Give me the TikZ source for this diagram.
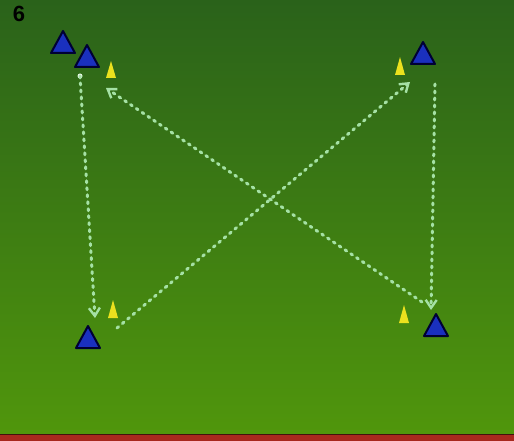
\documentclass[tikz,border=0pt]{standalone}
\usepackage{fontspec}
\setmainfont{Liberation Sans}
\usetikzlibrary{arrows.meta}
\definecolor{bgtop}{RGB}{42,98,26}
\definecolor{bgbot}{RGB}{80,150,12}
\definecolor{stripred}{RGB}{168,40,30}
\definecolor{coneblue}{RGB}{26,48,190}
\definecolor{coneyellow}{RGB}{235,225,30}
\definecolor{runline}{RGB}{165,225,165}
\begin{document}
\begin{tikzpicture}[x=1pt,y=-1pt,
  bluecone/.style={fill=coneblue,draw=black!80!blue,line width=2pt,line join=round},
  yellowcone/.style={fill=coneyellow,draw=none},
  runarrow/.style={draw=runline,line width=3pt,line cap=round,dash pattern=on 2pt off 5pt,
     -{Straight Barb[length=8pt,width=11pt,line width=2.4pt]}}]
\useasboundingbox (0,0) rectangle (514,441);
\shade[top color=bgtop,bottom color=bgbot] (0,0) rectangle (514,434);
\fill[stripred] (0,434) rectangle (514,441);
\draw[black!60!stripred,line width=1pt] (0,434) -- (514,434);
\node[font=\fontsize{22}{22}\selectfont\bfseries,text=black] (num) at (19,14) {\textbf{6}};
% blue cones
\path[bluecone] (63,31) -- (75,53) -- (51,53) -- cycle;
\path[bluecone] (87,45) -- (99,67) -- (75,67) -- cycle;
\path[bluecone] (423,42) -- (435,64) -- (411,64) -- cycle;
\path[bluecone] (88,326) -- (100,348) -- (76,348) -- cycle;
\path[bluecone] (436,314) -- (448,336) -- (424,336) -- cycle;
% yellow cones
\path[yellowcone] (111,61) -- (116,78) -- (106,78) -- cycle;
\path[yellowcone] (400,57) -- (405,75) -- (395,75) -- cycle;
\path[yellowcone] (113,300) -- (118,318) -- (108,318) -- cycle;
\path[yellowcone] (404,305) -- (409,323) -- (399,323) -- cycle;
% arrow coordinates
\coordinate (tlA) at (80,76);
\coordinate (blA) at (95,318);
\coordinate (trA) at (435,84);
\coordinate (brA) at (431,310);
\coordinate (blB) at (117,328);
\coordinate (trB) at (410,82);
\coordinate (brB) at (422,302);
\coordinate (tlB) at (106,88);
\fill[white!70!runline] (tlA) circle (2.5pt);
\draw[runarrow] (tlA) -- (blA);
\draw[runarrow] (trA) -- (brA);
\draw[runarrow] (blB) -- (trB);
\draw[runarrow] (brB) -- (tlB);
\end{tikzpicture}
\end{document}
